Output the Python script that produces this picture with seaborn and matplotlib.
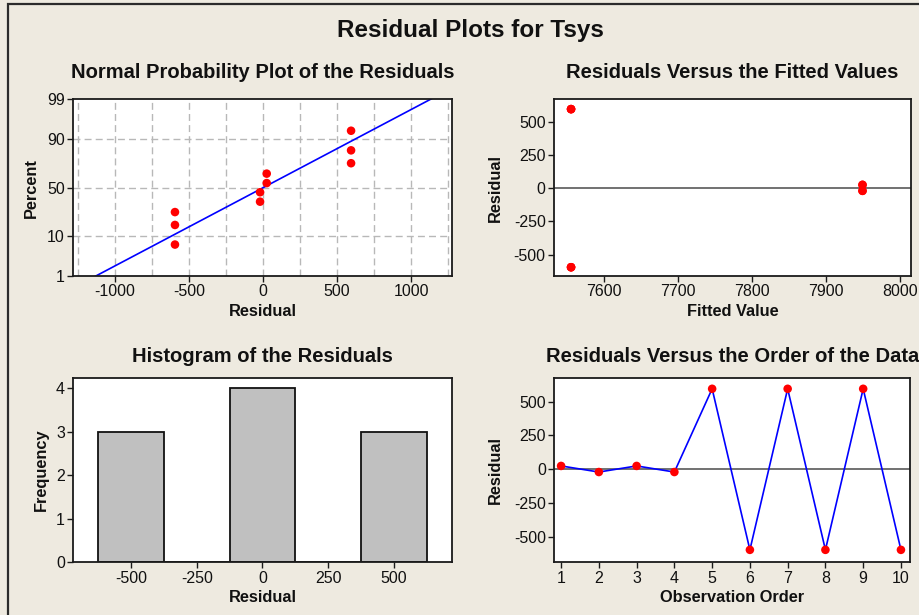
import matplotlib
matplotlib.use("Agg")
import matplotlib.pyplot as plt
import seaborn as sns
import numpy as np
import pandas as pd
from statistics import NormalDist
from matplotlib.patches import Rectangle

# ---------------- data ----------------
observation = [1, 2, 3, 4, 5, 6, 7, 8, 9, 10]
residuals = [25, -20, 25, -20, 595, -595, 595, -595, 595, -595]
fitted = [7949, 7949, 7949, 7949, 7556, 7556, 7556, 7556, 7556, 7556]
# normal-probability percents (median ranks) for the sorted residuals
prob_percent = [6.7, 16.3, 26.0, 35.6, 45.2, 54.8, 64.4, 74.0, 83.7, 93.3]
percent_ticks = [1, 10, 50, 90, 99]
npp_xticks = [-1000, -500, 0, 500, 1000]
npp_grid = [-1250, -1000, -750, -500, -250, 0, 250, 500, 750, 1000, 1250]
resid_ticks = [-500, -250, 0, 250, 500]
fitted_ticks = [7600, 7700, 7800, 7900, 8000]
hist_bins = [-625, -375, -125, 125, 375, 625]
freq_ticks = [0, 1, 2, 3, 4]

# ---------------- style ----------------
sns.set_theme(style="ticks")
plt.rcParams["font.family"] = ["Liberation Sans", "DejaVu Sans"]
plt.rcParams["axes.unicode_minus"] = False

BG = "#EEEAE0"
RED = "#FF0000"
BLUE = "#0000FF"
TXT = "#111111"

fig = plt.figure(figsize=(9.2, 6.15), dpi=100, facecolor=BG)

W, H = 920.0, 615.0
def axes_px(x0, y0, x1, y1):
    return fig.add_axes([x0 / W, 1 - y1 / H, (x1 - x0) / W, (y1 - y0) / H])

ax_npp = axes_px(73.3, 99.3, 451.7, 276.0)
ax_fit = axes_px(554.0, 99.3, 910.7, 276.0)
ax_hist = axes_px(73.3, 377.7, 451.7, 562.3)
ax_ord = axes_px(554.3, 377.7, 910.0, 562.3)

for ax in (ax_npp, ax_fit, ax_hist, ax_ord):
    ax.set_facecolor("white")
    for s in ax.spines.values():
        s.set_visible(True)
        s.set_color("#1a1a1a")
        s.set_linewidth(1.3)
    ax.tick_params(direction="out", length=4, width=1, colors="#1a1a1a",
                   labelsize=11.5, labelcolor=TXT, pad=2)

def titles(ax, title, xlabel, ylabel, ty, xly, ylx):
    ax.set_title(title, fontsize=14.5, fontweight="bold", color=TXT,
                 y=ty, va="center", pad=0)
    ax.set_xlabel(xlabel, fontsize=11.8, fontweight="bold", color=TXT, va="center")
    ax.set_ylabel(ylabel, fontsize=11.8, fontweight="bold", color=TXT, va="center")
    ax.xaxis.set_label_coords(0.5, xly)
    ax.yaxis.set_label_coords(ylx, 0.5)

# ---------------- normal probability plot ----------------
nd = NormalDist()
z_pts = [nd.inv_cdf(p / 100.0) for p in prob_percent]
sorted_res = sorted(residuals)
mu = float(np.mean(residuals))
sd = float(np.std(residuals, ddof=1))
z_line = np.array([nd.inv_cdf(0.002), nd.inv_cdf(0.998)])
x_line = mu + sd * z_line

for g in npp_grid:
    ax_npp.axvline(g, color="#b8b8b8", lw=1.0, dashes=(5, 3), zorder=0)
for p in percent_ticks[1:-1]:
    ax_npp.axhline(nd.inv_cdf(p / 100.0), color="#b8b8b8", lw=1.0, dashes=(5, 3), zorder=0)

sns.lineplot(x=x_line, y=z_line, ax=ax_npp, color=BLUE, lw=1.2, sort=False, zorder=2)
sns.scatterplot(x=sorted_res, y=z_pts, ax=ax_npp, color=RED, s=38,
                edgecolor="none", zorder=3)
ax_npp.set_xlim(-1282, 1275)
ax_npp.set_ylim(nd.inv_cdf(0.01), nd.inv_cdf(0.99))
ax_npp.set_xticks(npp_xticks)
ax_npp.set_yticks([nd.inv_cdf(p / 100.0) for p in percent_ticks])
ax_npp.set_yticklabels([str(p) for p in percent_ticks])
titles(ax_npp, "Normal Probability Plot of the Residuals", "Residual", "Percent",
       (276 - 72) / 176.7, (276 - 311.7) / 176.7, (31 - 73.3) / 378.4)

# ---------------- residuals vs fitted ----------------
ax_fit.axhline(0, color="#666666", lw=1.3, zorder=1)
sns.scatterplot(x=fitted, y=residuals, ax=ax_fit, color=RED, s=38,
                edgecolor="none", zorder=3)
ax_fit.set_xlim(7533, 8014)
ax_fit.set_ylim(-661, 669)
ax_fit.set_xticks(fitted_ticks)
ax_fit.set_yticks(resid_ticks)
titles(ax_fit, "Residuals Versus the Fitted Values", "Fitted Value", "Residual",
       (276 - 72) / 176.7, (276 - 311.7) / 176.7, (495 - 554) / 356.7)

# ---------------- histogram ----------------
sns.histplot(x=residuals, bins=hist_bins, ax=ax_hist, color="#C0C0C0",
             edgecolor="#111111", linewidth=1.3, alpha=1.0)
ax_hist.set_xlim(-719, 719)
ax_hist.set_ylim(0, 4.24)
ax_hist.set_xticks(resid_ticks)
ax_hist.set_yticks(freq_ticks)
titles(ax_hist, "Histogram of the Residuals", "Residual", "Frequency",
       (562.3 - 356.7) / 184.6, (562.3 - 598) / 184.6, (41.7 - 73.3) / 378.4)

# ---------------- residuals vs order ----------------
ax_ord.axhline(0, color="#666666", lw=1.3, zorder=1)
sns.lineplot(x=observation, y=residuals, ax=ax_ord, color=BLUE, lw=1.2, zorder=2)
sns.scatterplot(x=observation, y=residuals, ax=ax_ord, color=RED, s=38,
                edgecolor="none", zorder=3)
ax_ord.set_xlim(0.82, 10.24)
ax_ord.set_ylim(-687, 677)
ax_ord.set_xticks(observation)
ax_ord.set_yticks(resid_ticks)
titles(ax_ord, "Residuals Versus the Order of the Data", "Observation Order", "Residual",
       (562.3 - 356.7) / 184.6, (562.3 - 598) / 184.6, (495 - 554.3) / 355.7)

# ---------------- figure title and frame ----------------
fig.text(470.5 / W, 1 - 31 / H, "Residual Plots for Tsys", ha="center", va="center",
         fontsize=17.5, fontweight="bold", color=TXT)
fig.patches.append(Rectangle((8 / W, -0.2), 1.5, 1 - 3.5 / H + 0.2,
                             transform=fig.transFigure, fill=False,
                             edgecolor="#2b2b2b", lw=1.6, zorder=0))

fig.savefig("out.png", dpi=100, facecolor=BG)
